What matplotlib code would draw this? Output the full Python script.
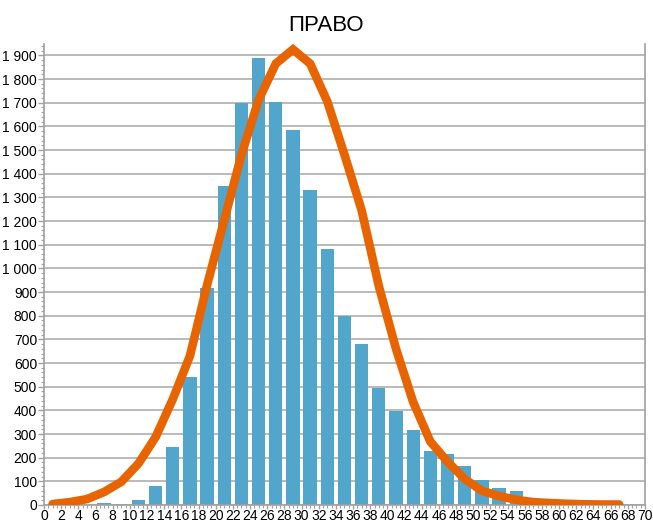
import matplotlib.pyplot as plt
import numpy as np
from matplotlib.ticker import MultipleLocator, FuncFormatter

plt.rcParams['font.family'] = ['Liberation Sans Narrow', 'Liberation Sans', 'DejaVu Sans']

# bin centres (odd values 1..67)
centres = np.arange(1, 69, 2)

# bar heights
counts = [0, 0, 0, 10, 4, 22, 82, 245, 540, 915, 1349, 1700, 1888, 1705,
          1585, 1332, 1083, 800, 679, 493, 398, 316, 228, 215, 164, 105,
          72, 59, 12, 25, 5, 3, 2, 1]

# orange curve
curve = [4, 12, 25, 55, 98, 175, 287, 447, 630, 930, 1205, 1480, 1712, 1865,
         1925, 1865, 1705, 1480, 1245, 925, 660, 435, 268, 183, 110, 60,
         38, 22, 12, 8, 5, 3, 2, 2]

title = 'ПРАВО'

fig = plt.figure(figsize=(6.53, 5.25), dpi=100)
ax = fig.add_axes([0.0674, 0.0381, 0.9203, 0.879])

ax.grid(axis='y', color='#b4b4b4', lw=1.3, zorder=0)
ax.bar(centres, counts, width=1.55, color='#52a6cc', zorder=2)
ax.plot(centres, curve, color='#e86400', lw=6.2, solid_capstyle='round',
        solid_joinstyle='miter', zorder=3)

ax.set_xlim(0, 70)
ax.set_ylim(0, 1950)
ax.xaxis.set_major_locator(MultipleLocator(2))
ax.xaxis.set_minor_locator(MultipleLocator(0.5))
ax.yaxis.set_major_locator(MultipleLocator(100))
ax.yaxis.set_minor_locator(MultipleLocator(20))
ax.yaxis.set_major_formatter(FuncFormatter(lambda v, p: f'{int(v):,}'.replace(',', ' ')))

ax.spines['top'].set_visible(False)
for s in ['left', 'bottom', 'right']:
    ax.spines[s].set_color('#a0a0a0')
    ax.spines[s].set_linewidth(1.2)

ax.tick_params(axis='both', which='major', length=4, width=1, color='#a0a0a0',
               labelsize=10, pad=1, direction='out')
ax.tick_params(axis='x', which='major', length=3, pad=0)
ax.tick_params(axis='both', which='minor', length=2, width=0.8, color='#a0a0a0',
               direction='out')
ax.tick_params(axis='y', which='both', right=False)

fig.text(0.5, 0.952, title, ha='center', va='center', fontsize=16)

plt.savefig('out.png', dpi=100)
